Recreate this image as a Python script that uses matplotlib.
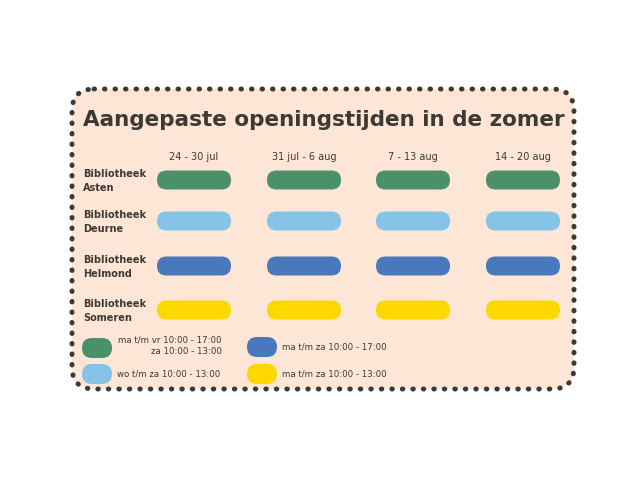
import matplotlib.pyplot as plt
from matplotlib.patches import FancyBboxPatch

weeks = ['24 - 30 jul', '31 jul - 6 aug', '7 - 13 aug', '14 - 20 aug']
libraries = ['Bibliotheek\nAsten', 'Bibliotheek\nDeurne', 'Bibliotheek\nHelmond', 'Bibliotheek\nSomeren']
# schedule type per library per week
schedule = [[0, 0, 0, 0], [1, 1, 1, 1], [2, 2, 2, 2], [3, 3, 3, 3]]
type_colors = ['#4a9068', '#85c4e6', '#4a78bc', '#fdd800']
type_labels = ['ma t/m vr 10:00 - 17:00\nza 10:00 - 13:00', 'wo t/m za 10:00 - 13:00',
               'ma t/m za 10:00 - 17:00', 'ma t/m za 10:00 - 13:00']

dark = '#3d3935'
fig = plt.figure(figsize=(6.4, 4.8), dpi=100)
ax = fig.add_axes([0, 0, 1, 1])
ax.set_xlim(0, 640)
ax.set_ylim(480, 0)
ax.axis('off')

box = FancyBboxPatch((72, 89), 502, 300, boxstyle='round,pad=0,rounding_size=22',
                     fc='#fde6d6', ec=dark, lw=3.6, linestyle=(0, (0.1, 2.0)),
                     capstyle='round')
ax.add_patch(box)

ax.text(83, 120, 'Aangepaste openingstijden in de zomer', fontsize=15.5, fontweight='bold',
        color=dark, va='center', ha='left', family='DejaVu Sans')


def pill(cx, cy, w, h, color):
    ax.add_patch(FancyBboxPatch((cx - w / 2, cy - h / 2), w, h,
                                boxstyle=f'round,pad=0,rounding_size={h / 2}',
                                fc=color, ec='none'))


col_x = [194, 304, 413, 523]
row_y = [180, 221, 266, 310]

for j, w in enumerate(weeks):
    ax.text(col_x[j], 157, w, ha='center', va='center', fontsize=7, color=dark)

for i, lib in enumerate(libraries):
    ax.text(83, row_y[i] + 1, lib, ha='left', va='center', fontsize=7, fontweight='bold',
            color=dark, linespacing=1.5)
    for j in range(len(weeks)):
        pill(col_x[j], row_y[i], 74, 19, type_colors[schedule[i][j]])

leg_pos = [(97, 348), (97, 374), (262, 347), (262, 374)]
for k, (lx, ly) in enumerate(leg_pos):
    pill(lx, ly, 30, 20, type_colors[k])
    if k == 0:
        ax.text(222, ly - 2, type_labels[k], ha='right', va='center', fontsize=6.2,
                color=dark, linespacing=1.4)
    else:
        ax.text(lx + 20, ly, type_labels[k], ha='left', va='center', fontsize=6.2, color=dark)

fig.savefig('out.png', dpi=100)
